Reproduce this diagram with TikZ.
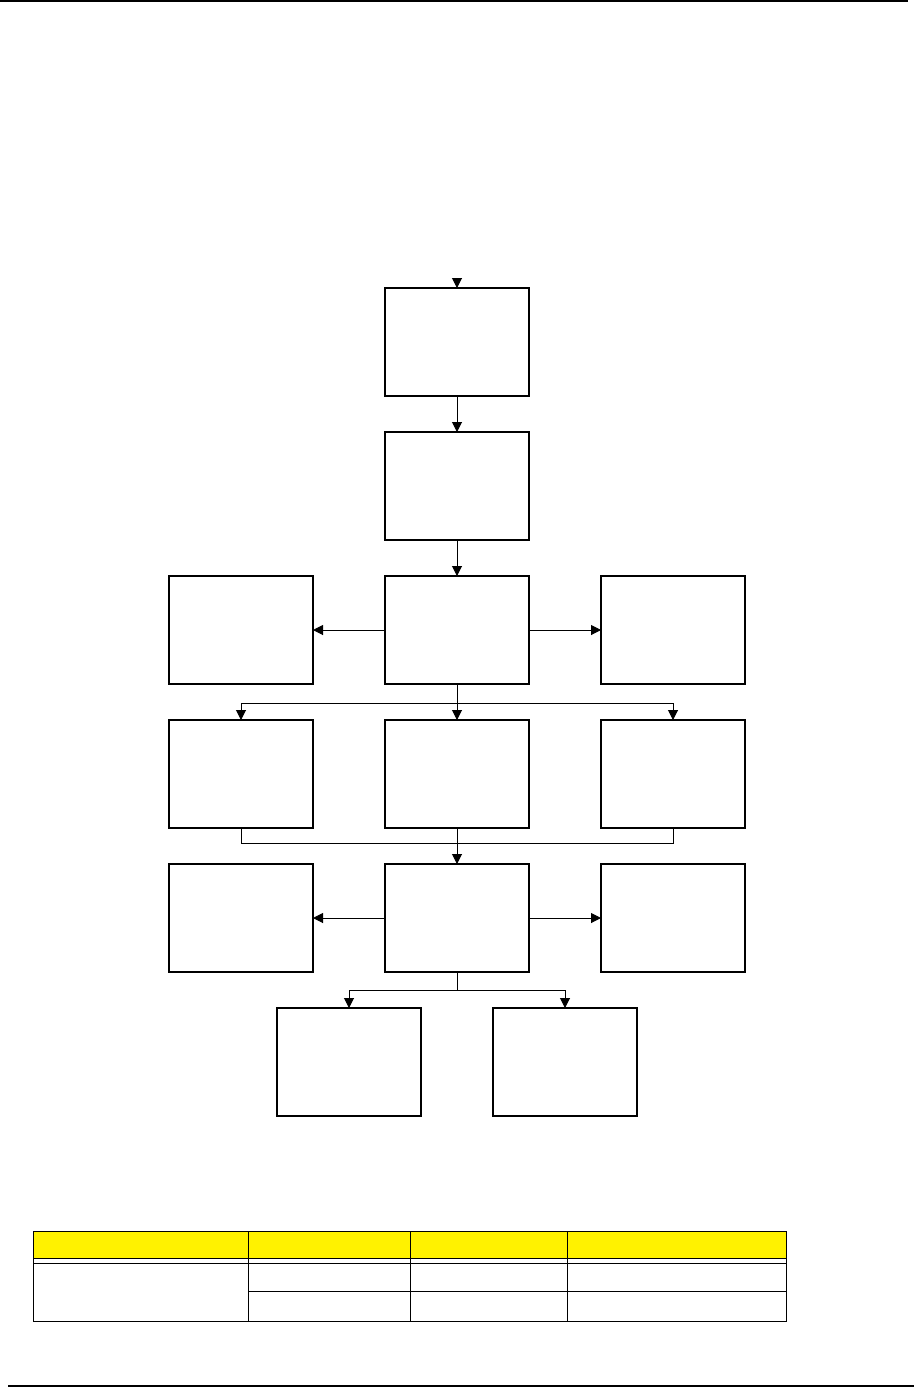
\documentclass[tikz,border=0pt]{standalone}
\usepackage{tikz}
\usetikzlibrary{calc,arrows.meta,positioning}
\tikzset{
  stepbox/.style={draw=black, line width=1.2pt, fill=white, inner sep=0pt, outer sep=0pt,
    minimum width=144pt, minimum height=108pt},
  arr/.style={-{Triangle[length=10pt,width=10pt]}, line width=1pt},
  link/.style={line width=1pt},
  rule/.style={draw=black, line width=2pt},
  grid/.style={draw=black, line width=1pt}
}

\begin{document}
\begin{tikzpicture}[x=1pt, y=1pt, node distance=36pt and 72pt]
  \useasboundingbox (0,0) rectangle (916,-1387);

  % page rules
  \draw[rule] (0,-1) -- (908,-1);
  \draw[rule] (8,-1386) -- (914,-1386);

  % flow boxes
  \node[stepbox] (n1) at (457,-342) {};
  \node[stepbox, below=of n1] (n2) {};
  \node[stepbox, below=of n2] (n3) {};
  \node[stepbox, left=of n3] (n3l) {};
  \node[stepbox, right=of n3] (n3r) {};
  \node[stepbox, below=of n3] (n4) {};
  \node[stepbox, left=of n4] (n4l) {};
  \node[stepbox, right=of n4] (n4r) {};
  \node[stepbox, below=of n4] (n5) {};
  \node[stepbox, left=of n5] (n5l) {};
  \node[stepbox, right=of n5] (n5r) {};
  \node[stepbox, below=of n5, xshift=-108pt] (n6l) {};
  \node[stepbox, right=of n6l] (n6r) {};

  \coordinate (entry) at ($(n1.north)+(0,9pt)$);
  \draw[arr] (entry) -- (n1.north);
  \draw[arr] (n1) -- (n2);
  \draw[arr] (n2) -- (n3);
  \draw[arr] (n3) -- (n3l);
  \draw[arr] (n3) -- (n3r);

  \draw[arr] (n3) -- (n4);
  \draw[arr] (n3.south) -- ++(0,-19pt) -| (n4l.north);
  \draw[arr] (n3.south) -- ++(0,-19pt) -| (n4r.north);

  \draw[link] (n4l.south) -- ++(0,-15pt) -| (n4r.south);
  \draw[arr] (n4) -- (n5);
  \draw[arr] (n5) -- (n5l);
  \draw[arr] (n5) -- (n5r);

  \draw[arr] (n5.south) -- ++(0,-18pt) -| (n6l.north);
  \draw[arr] (n5.south) -- ++(0,-18pt) -| (n6r.north);

  % table
  \fill[yellow] (33,-1231) rectangle (786,-1258);
  \draw[grid] (33,-1231) rectangle (786,-1321);
  \draw[grid] (33,-1258) -- (786,-1258);
  \draw[grid] (33,-1263) -- (786,-1263);
  \draw[grid] (248,-1291) -- (786,-1291);
  \foreach \x in {248,410,567}
    \draw[grid] (\x,-1231) -- (\x,-1321);
\end{tikzpicture}
\end{document}
